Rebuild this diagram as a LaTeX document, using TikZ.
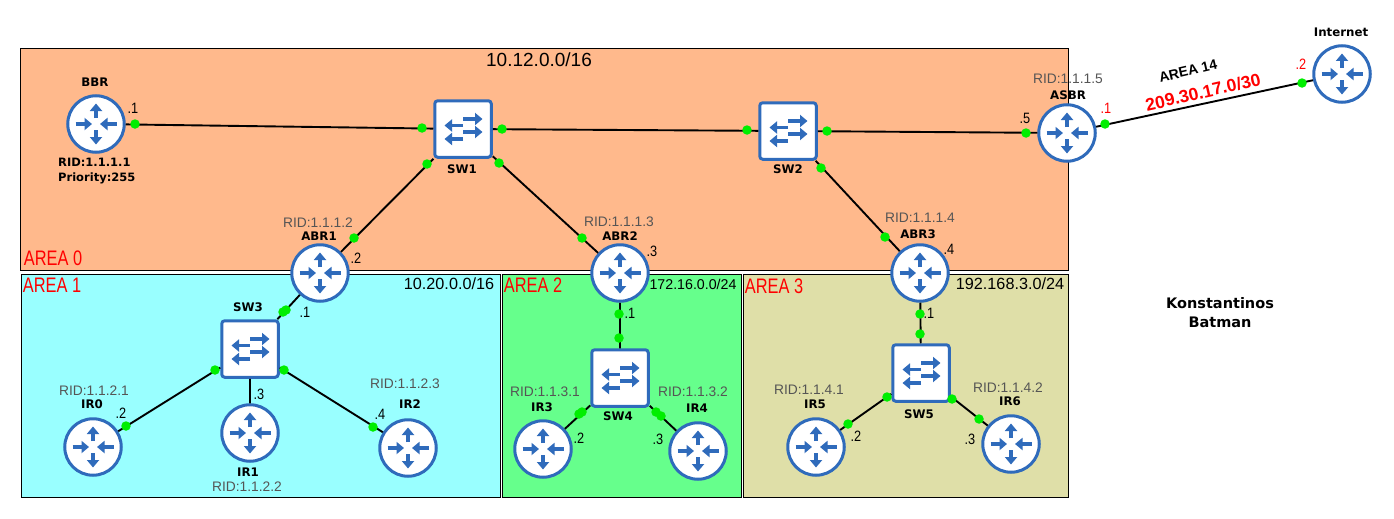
\documentclass[tikz,border=0pt]{standalone}
\usepackage{fontspec}
\setmainfont{Liberation Sans}
\newfontfamily\hostfont{DejaVu Sans}[BoldFont={DejaVu Sans Bold}]
\newfontfamily\areafont[FakeStretch=0.78]{Liberation Sans}
\newfontfamily\portfont[FakeStretch=0.85]{Liberation Sans}
\usetikzlibrary{arrows.meta}
\definecolor{netblue}{RGB}{47,107,187}
\definecolor{portgreen}{RGB}{0,238,0}
\definecolor{areaorange}{RGB}{255,185,140}
\definecolor{areacyan}{RGB}{153,255,255}
\definecolor{areagreen}{RGB}{102,255,140}
\definecolor{areaolive}{RGB}{223,223,168}
\definecolor{ridgray}{RGB}{85,85,85}
\tikzset{
  iconarrow/.style={draw=netblue,line width=3.4pt,-{Triangle[width=12pt,length=7.5pt]}},
  router/.style={circle,draw=netblue,fill=white,line width=3pt,minimum size=56.5pt,inner sep=0pt,
    path picture={
      \foreach \xa/\ya/\xb/\yb in {0/-6/0/-20.5,0/6/0/20.5,-20.5/0/-4/0,20.5/0/4/0}
        \draw[iconarrow] ([shift={(\xa,\ya)}]path picture bounding box.center)
          -- ([shift={(\xb,\yb)}]path picture bounding box.center);
    }},
  switchbox/.style={rectangle,rounded corners=3pt,draw=netblue,fill=white,line width=3pt,minimum size=56.5pt,inner sep=0pt,
    path picture={
      \foreach \xa/\ya/\xb/\yb in {0/-10/19.5/-10,0/-3.5/-18.5/-3.5,0/3/19.5/3,0/10/-18.5/10}
        \draw[iconarrow] ([shift={(\xa,\ya)}]path picture bounding box.center)
          -- ([shift={(\xb,\yb)}]path picture bounding box.center);
    }},
  port/.style={circle,fill=portgreen,minimum size=9.5pt,inner sep=0pt},
  link/.style={draw=black,line width=1.9pt},
  areabox/.style={draw=black,line width=1pt},
  hostname/.style={font=\hostfont\bfseries\fontsize{11.8}{13}\selectfont,inner sep=0pt},
  rid/.style={font=\fontsize{13.8}{16}\selectfont,text=ridgray,inner sep=0pt},
  portnum/.style={font=\portfont\fontsize{15}{17}\selectfont,inner sep=0pt},
  netname/.style={font=\fontsize{16.2}{18}\selectfont,inner sep=0pt},
  areaname/.style={font=\areafont\fontsize{21}{23}\selectfont,text=red,inner sep=0pt},
}
\begin{document}
\begin{tikzpicture}[x=1pt,y=-1pt]
        \useasboundingbox (0,0) rectangle (1394,519);
        % areas
        \draw[areabox,fill=areaorange] (20.5,49) rectangle (1068,270);
        \draw[areabox,fill=areacyan] (21.5,274) rectangle (500,497);
        \draw[areabox,fill=areagreen] (502.5,274) rectangle (741,497);
        \draw[areabox,fill=areaolive] (743.5,274) rectangle (1068,497);
        % routers and switches
        \draw (96,124) node[router](bbr){};
        \draw (1067,133) node[router](asbr){};
        \draw (1342,74) node[router](internet){};
        \draw (320,273) node[router](abr1){};
        \draw (620,273) node[router](abr2){};
        \draw (920,273) node[router](abr3){};
        \draw (93,447) node[router](ir0){};
        \draw (250,433) node[router](ir1){};
        \draw (408,448) node[router](ir2){};
        \draw (543,449) node[router](ir3){};
        \draw (698,451) node[router](ir4){};
        \draw (816,447) node[router](ir5){};
        \draw (1011,444) node[router](ir6){};
        \draw (463,129) node[switchbox](sw1){};
        \draw (788,131) node[switchbox](sw2){};
        \draw (250,349) node[switchbox](sw3){};
        \draw (620,378) node[switchbox](sw4){};
        \draw (921,373) node[switchbox](sw5){};
        \draw[link]
          (bbr) -- (sw1)
          (sw1) -- (sw2)
          (sw2) -- (asbr)
          (asbr) -- (internet)
          (sw1) -- (abr1)
          (sw1) -- (abr2)
          (sw2) -- (abr3)
          (abr1) -- (sw3)
          (sw3) -- (ir0)
          (sw3) -- (ir1)
          (sw3) -- (ir2)
          (abr2) -- (sw4)
          (sw4) -- (ir3)
          (sw4) -- (ir4)
          (abr3) -- (sw5)
          (sw5) -- (ir5)
          (sw5) -- (ir6)
        ;
        % interface dots
        \foreach \name/\px/\py in {d1/135/124,d2/422/128,d3/502/129,d4/427/164,d5/499/163,
            d6/747/130,d7/827/131,d8/821/168,d9/1026/133,d10/1105/124,d11/1302/83,
            d12/354/238,d13/582/238,d14/885/237,d15/283/312,d16/286/310,d17/215/370,
            d18/284/370,d19/126/426,d20/373/427,d21/619/314,d22/619/338,d23/579/414,
            d24/582/412,d25/656/412,d26/661/416,d27/920/314,d28/920/334,d29/887/397,
            d30/952/399,d31/848/424,d32/979/419}
          \node[port](\name) at (\px,\py) {};
        % host names
        \foreach \name/\px/\py/\txt in {lbbr/95/82/BBR,lsw1/462/169/SW1,lsw2/788/169/SW2,
            lsw3/248/307/SW3,lsw4/618/416/SW4,lsw5/919/414/SW5,labr1/319/236/ABR1,
            labr2/620/236/ABR2,labr3/918/234/ABR3,lasbr/1068/95/ASBR,linternet/1341/32/Internet,
            lir0/92/404/IR0,lir1/248/472/IR1,lir2/410/404/IR2,lir3/542/407/IR3,
            lir4/697/408/IR4,lir5/815/404/IR5,lir6/1010/401/IR6}
          \node[hostname](\name) at (\px,\py) {\txt};
        \draw (58,162) node[hostname,anchor=west,font=\hostfont\bfseries\fontsize{11.5}{13}\selectfont](ridbbr){RID:1.1.1.1};
        \draw (58,178) node[hostname,anchor=west,font=\hostfont\bfseries\fontsize{11.5}{13}\selectfont](prio){Priority:255};
        % router ids
        \foreach \name/\px/\py/\txt in {rabr1/318/223/1.1.1.2,rabr2/619/222/1.1.1.3,
            rabr3/920/218/1.1.1.4,rasbr/1068/79/1.1.1.5,rir0/94/391/1.1.2.1,rir1/247/487/1.1.2.2,
            rir2/405/384/1.1.2.3,rir3/545/392/1.1.3.1,rir4/693/392/1.1.3.2,rir5/809/390/1.1.4.1,
            rir6/1008/388/1.1.4.2}
          \node[rid](\name) at (\px,\py) {RID:\txt};
        % interface numbers
        \foreach \name/\px/\py/\txt in {p1/133/108/.1,p2/356/258/.2,p3/652/251/.3,p4/949/249/.4,
            p5/1025/118/.5,p6/305/312/.1,p7/121/413/.2,p8/259/394/.3,p9/380/414/.4,
            p10/630/313/.1,p11/579/438/.2,p12/658/439/.3,p13/929/313/.1,p14/856/436/.2,
            p15/970/439/.3}
          \node[portnum](\name) at (\px,\py) {\txt};
        \draw (1106,108) node[portnum,text=red](p16){.1};
        \draw (1301,64) node[portnum,text=red](p17){.2};
        % networks and areas
        \draw (539,60) node[netname,font=\fontsize{19}{21}\selectfont](net0){10.12.0.0/16};
        \draw (449,284) node[netname](net1){10.20.0.0/16};
        \draw (693,284) node[netname,font=\fontsize{14.2}{16}\selectfont](net2){172.16.0.0/24};
        \draw (1010,284) node[netname](net3){192.168.3.0/24};
        \draw (53,258) node[areaname](area0){AREA 0};
        \draw (52,285) node[areaname](area1){AREA 1};
        \draw (533,285) node[areaname](area2){AREA 2};
        \draw (774,286) node[areaname](area3){AREA 3};
        \draw (1188,71) node[rotate=13,inner sep=0pt,font=\bfseries\fontsize{14}{16}\selectfont](area14){AREA 14};
        \draw (1203,92) node[rotate=13,inner sep=0pt,text=red,font=\bfseries\fontsize{17.6}{19}\selectfont](net14){209.30.17.0/30};
        \draw (1220,313) node[align=center,inner sep=0pt,font=\hostfont\bfseries\fontsize{14.5}{19}\selectfont](author){Konstantinos\\Batman};
      \end{tikzpicture}
\end{document}
